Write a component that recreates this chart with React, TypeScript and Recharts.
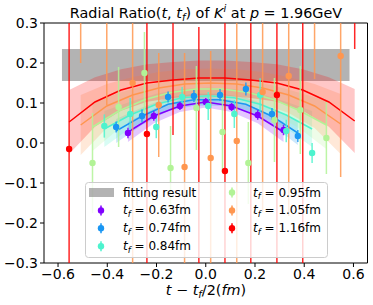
import { ComposedChart, Line, Area, Scatter, ErrorBar, XAxis, YAxis, ReferenceArea } from 'recharts'

const FONT = '"DejaVu Sans", sans-serif'

const X_TICKS = [-0.6, -0.4, -0.2, 0, 0.2, 0.4, 0.6]
const Y_TICKS = [-0.3, -0.2, -0.1, 0, 0.1, 0.2, 0.3]
const X_DOMAIN = [-0.657, 0.657]
const Y_DOMAIN = [-0.3, 0.3]

// grey "fitting result" band
const FIT_X = [-0.584, 0.584]
const FIT_Y = [0.155, 0.235]

const TF_LABELS = ['0.63', '0.74', '0.84', '0.95', '1.05', '1.16']
const COLORS = ['#8000ff', '#1996f3', '#4df3ce', '#b2f396', '#ff964f', '#ff0000']

// t_f = 0.63fm
const X_063 = [-0.316, -0.211, -0.105, 0, 0.105, 0.211, 0.316]
const Y_063 = [0.025, 0.0675, 0.0925, 0.1025, 0.09, 0.07, 0.0325]
const E_063 = [0.013, 0.012, 0.01, 0.01, 0.01, 0.012, 0.013]
const FIT_063 = [0.0275, 0.0675, 0.0925, 0.1025, 0.0925, 0.0675, 0.0275]
const BAND_063 = [0.025, 0.018, 0.015, 0.014, 0.015, 0.018, 0.025]

// t_f = 0.74fm
const X_074 = [-0.364, -0.259, -0.153, -0.048, 0.058, 0.163, 0.269, 0.374]
const Y_074 = [0.04, 0.0675, 0.115, 0.1175, 0.12, 0.135, 0.0725, 0.0175]
const E_074 = [0.014, 0.016, 0.014, 0.015, 0.015, 0.016, 0.015, 0.015]
const FIT_074 = [0.03, 0.067, 0.097, 0.108, 0.108, 0.097, 0.067, 0.025]
const BAND_074 = [0.03, 0.022, 0.017, 0.015, 0.015, 0.017, 0.022, 0.03]

// t_f = 0.84fm
const X_084 = [-0.412, -0.307, -0.201, -0.096, 0.01, 0.116, 0.221, 0.327, 0.432]
const Y_084 = [0.0425, 0.0725, 0.04, 0.115, 0.0925, 0.0725, 0.12, 0.03, -0.025]
const E_084 = [0.029, 0.04, 0.028, 0.025, 0.035, 0.035, 0.042, 0.028, 0.025]
const FIT_084 = [0.035, 0.07, 0.097, 0.113, 0.118, 0.113, 0.097, 0.07, 0.035]
const BAND_084 = [0.045, 0.033, 0.026, 0.022, 0.021, 0.022, 0.026, 0.033, 0.045]

// t_f = 0.95fm
const X_095 = [-0.46, -0.354, -0.249, -0.143, -0.038, 0.068, 0.173, 0.279, 0.384, 0.49]
const Y_095 = [-0.05, 0.09, 0.175, -0.0625, 0.0875, 0.0275, -0.05, 0.0575, 0.0825, 0.0125]
const E_095 = [0.125, 0.1, 0.1025, 0.105, 0.105, 0.1, 0.1025, 0.105, 0.11, 0.09]
const FIT_095 = [0.04, 0.08, 0.108, 0.126, 0.135, 0.135, 0.126, 0.108, 0.08, 0.045]
const BAND_095 = [0.06, 0.045, 0.035, 0.03, 0.028, 0.028, 0.03, 0.035, 0.045, 0.06]

// t_f = 1.05fm
const X_105 = [-0.508, -0.402, -0.297, -0.191, -0.086, 0.02, 0.126, 0.231, 0.337, 0.442, 0.548]
const Y_105 = [0.36, 0.35, 0.15, 0.095, -0.06, -0.0375, 0.005, 0.1275, 0.1675, 0.35, 0.2175]
const E_105 = [0.16, 0.255, 0.5, 0.13, 0.285, 0.2675, 0.4, 0.3, 0.35, 0.19, 0.3025]
const FIT_105 = [0.045, 0.0925, 0.12, 0.1375, 0.1475, 0.15, 0.1475, 0.1375, 0.12, 0.0925, 0.0475]
const BAND_105 = [0.075, 0.055, 0.045, 0.04, 0.037, 0.036, 0.037, 0.04, 0.045, 0.055, 0.075]

// t_f = 1.16fm (null = point not visible)
const X_116 = [-0.555, -0.45, -0.344, -0.239, -0.133, -0.028, 0.078, 0.183, 0.289, 0.394, 0.5, 0.605]
const Y_116 = [-0.015, null, null, 0.0225, 0.4, -0.4, -0.07, -0.35, 0.12, 0.4, null, 0.4]
const E_116 = [0.5, null, null, 0.5, 0.38, 0.69, 0.5, 0.7, 0.5, 0.75, null, 0.165]
const FIT_116 = [0.0525, 0.1025, 0.1325, 0.15, 0.1575, 0.1625, 0.1625, 0.1575, 0.15, 0.1325, 0.1025, 0.055]
const BAND_116 = [0.08, 0.062, 0.052, 0.047, 0.045, 0.044, 0.044, 0.045, 0.047, 0.052, 0.062, 0.08]

const RAW = [
  { x: X_063, y: Y_063, err: E_063, fit: FIT_063, band: BAND_063 },
  { x: X_074, y: Y_074, err: E_074, fit: FIT_074, band: BAND_074 },
  { x: X_084, y: Y_084, err: E_084, fit: FIT_084, band: BAND_084 },
  { x: X_095, y: Y_095, err: E_095, fit: FIT_095, band: BAND_095 },
  { x: X_105, y: Y_105, err: E_105, fit: FIT_105, band: BAND_105 },
  { x: X_116, y: Y_116, err: E_116, fit: FIT_116, band: BAND_116 },
]

const inY = (v: number) => v >= Y_DOMAIN[0] && v <= Y_DOMAIN[1]

// error bars are cut at the frame, the way matplotlib clips them
const SERIES = RAW.map((s, i) => ({
  name: TF_LABELS[i],
  color: COLORS[i],
  points: s.x
    .map((x, j) => ({ x, y: s.y[j] as number, e: s.err[j] as number }))
    .filter(p => p.y != null)
    .map(p => ({
      x: p.x,
      y: p.y,
      err: [Math.min(p.e, p.y - Y_DOMAIN[0]), Math.min(p.e, Y_DOMAIN[1] - p.y)],
    })),
  curve: s.x.map((x, j) => ({
    x,
    fit: s.fit[j],
    band: [s.fit[j] - s.band[j], s.fit[j] + s.band[j]],
  })),
}))

const fmt = (v: number) => (Math.abs(v) < 1e-9 ? '0.0' : v.toFixed(1).replace('-', '\u2212'))

const tickStyle = { fill: '#000', fontSize: 14, fontFamily: FONT }

function Dot(color: string) {
  return (props: any) =>
    inY(props.payload?.y) ? <circle cx={props.cx} cy={props.cy} r={3.2} fill={color} /> : <g />
}

// legend entry t_f = ...fm
function TfText({ x, y, label }: { x: number; y: number; label: string }) {
  return (
    <text x={x} y={y} fontSize={12} fontFamily={FONT} fill="#000">
      <tspan fontStyle="italic">t</tspan>
      <tspan fontStyle="italic" fontSize={8.5} dy={2.5}>f</tspan>
      <tspan dy={-2.5}>{' = ' + label + 'fm'}</tspan>
    </text>
  )
}

export default function App() {
  return (
    <div style={{ position: 'absolute', left: 0, top: 0, width: 373, height: 305, background: '#fff' }}>
      <ComposedChart width={373} height={305} margin={{ top: 23, right: 5.5, bottom: 0, left: 0 }}>
        <XAxis
          type="number"
          dataKey="x"
          domain={X_DOMAIN}
          ticks={X_TICKS}
          allowDataOverflow
          tickFormatter={fmt}
          tickSize={4}
          tickMargin={2}
          height={42}
          axisLine={false}
          tick={tickStyle}
          tickLine={{ stroke: '#000' }}
        />
        <YAxis
          type="number"
          domain={Y_DOMAIN}
          ticks={Y_TICKS}
          allowDataOverflow
          tickFormatter={fmt}
          tickSize={4}
          tickMargin={2}
          width={44}
          axisLine={false}
          tick={tickStyle}
          tickLine={{ stroke: '#000' }}
        />
        <ReferenceArea
          x1={FIT_X[0]}
          x2={FIT_X[1]}
          y1={FIT_Y[0]}
          y2={FIT_Y[1]}
          fill="#808080"
          fillOpacity={0.6}
          stroke="none"
        />
        {SERIES.map(s => (
          <Area
            key={'band' + s.name}
            data={s.curve}
            dataKey="band"
            type="linear"
            stroke="none"
            fill={s.color}
            fillOpacity={0.22}
            isAnimationActive={false}
          />
        ))}
        {SERIES.map(s => (
          <Line
            key={'fit' + s.name}
            data={s.curve}
            dataKey="fit"
            type="linear"
            stroke={s.color}
            strokeWidth={1.5}
            dot={false}
            isAnimationActive={false}
          />
        ))}
        {SERIES.map(s => (
          <Scatter
            key={'pts' + s.name}
            data={s.points}
            dataKey="y"
            fill={s.color}
            shape={Dot(s.color)}
            isAnimationActive={false}
          >
            <ErrorBar dataKey="err" direction="y" width={0} stroke={s.color} strokeWidth={1.5} strokeOpacity={0.85} />
          </Scatter>
        ))}
        <ReferenceArea
          x1={X_DOMAIN[0]}
          x2={X_DOMAIN[1]}
          y1={Y_DOMAIN[0]}
          y2={Y_DOMAIN[1]}
          fill="none"
          stroke="#000"
          strokeWidth={1}
        />
      </ComposedChart>

      <svg width={373} height={305} style={{ position: 'absolute', left: 0, top: 0, pointerEvents: 'none' }}>
        <text x={206} y={18} textAnchor="middle" fontSize={14.4} fontFamily={FONT} fill="#000">
          Radial Ratio(
          <tspan fontStyle="italic">t</tspan>
          {', '}
          <tspan fontStyle="italic">t</tspan>
          <tspan fontStyle="italic" fontSize={10} dy={3}>f</tspan>
          <tspan dy={-3}>) of </tspan>
          <tspan fontStyle="italic">K</tspan>
          <tspan fontStyle="italic" fontSize={10} dy={-6}>i</tspan>
          <tspan dy={6}>{' at '}</tspan>
          <tspan fontStyle="italic">p</tspan>
          {' = 1.96GeV'}
        </text>

        <text x={206} y={295} textAnchor="middle" fontSize={14.4} fontFamily={FONT} fill="#000">
          <tspan fontStyle="italic">t</tspan>
          {' \u2212 '}
          <tspan fontStyle="italic">t</tspan>
          <tspan fontStyle="italic" fontSize={10} dy={3}>f</tspan>
          <tspan dy={-3}>/2(</tspan>
          <tspan fontStyle="italic">fm</tspan>
          )
        </text>

        <rect x={85.5} y={182.5} width={242} height={75} rx={3} fill="#fff" fillOpacity={0.8} stroke="#cccccc" />
        <rect x={89} y={188} width={25} height={9} fill="#808080" fillOpacity={0.6} />
        <text x={123} y={196.5} fontSize={12} fontFamily={FONT} fill="#000">fitting result</text>
        {SERIES.map((s, i) => {
          const col = i < 3 ? 0 : 1
          const row = i < 3 ? i + 1 : i - 3
          const cx = col === 0 ? 101 : 232
          const cy = 192.5 + row * 17.9
          return (
            <g key={'leg' + s.name}>
              <line x1={cx} x2={cx} y1={cy - 5} y2={cy + 5} stroke={s.color} strokeWidth={1.5} />
              <circle cx={cx} cy={cy} r={3.2} fill={s.color} />
              <TfText x={col === 0 ? 123 : 253} y={cy + 4} label={s.name} />
            </g>
          )
        })}
      </svg>
    </div>
  )
}
